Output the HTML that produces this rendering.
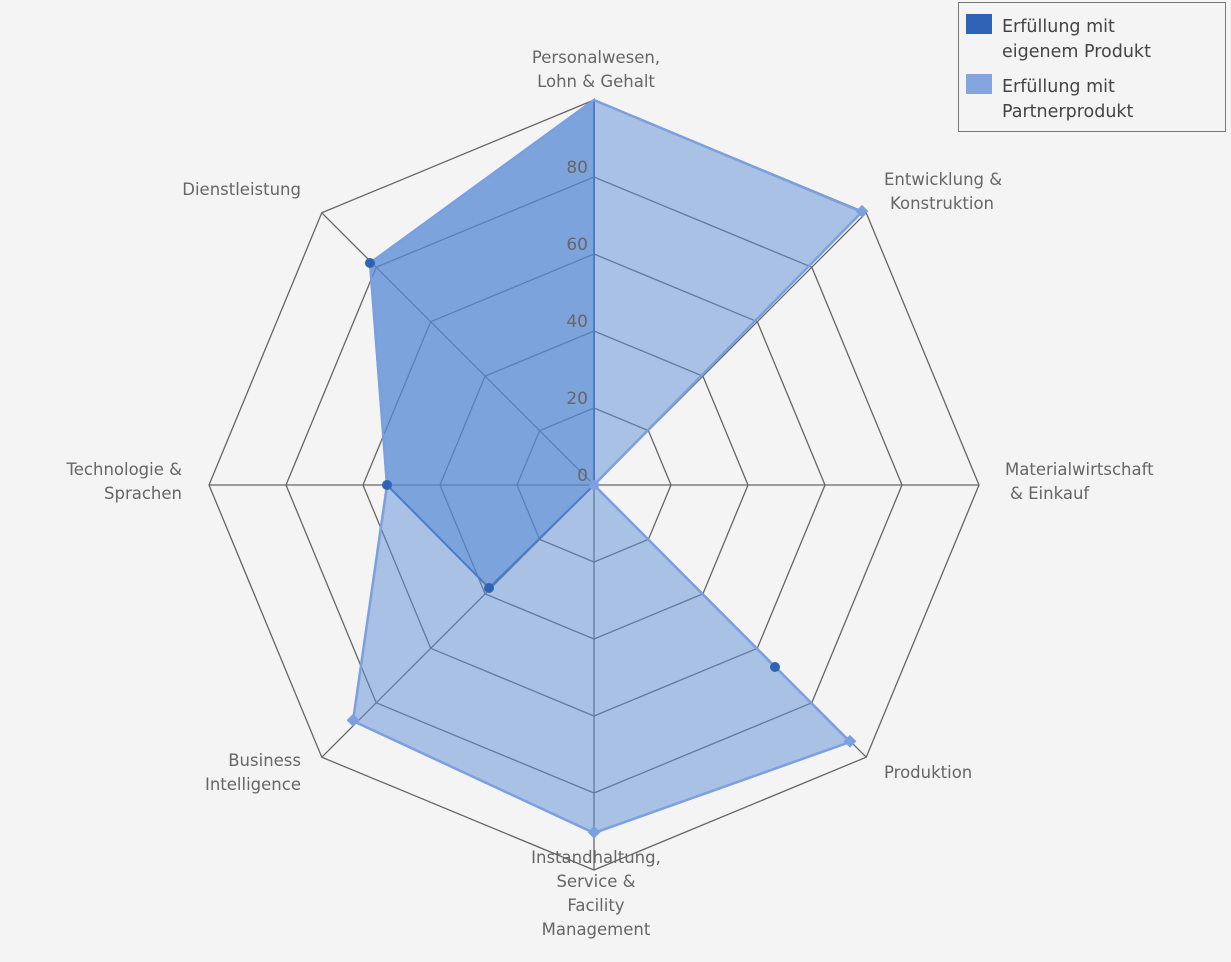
<!DOCTYPE html>
<html><head><meta charset="utf-8"><style>
html,body{margin:0;padding:0;background:#f4f4f4;}
svg{display:block;font-family:"DejaVu Sans","Liberation Sans",sans-serif;}
</style></head><body>
<svg width="1231" height="962" viewBox="0 0 1231 962">
<rect width="1231" height="962" fill="#f4f4f4"/>
<g fill="none" stroke="#666" stroke-width="1.3">
<polygon points="594,408 648.4,430.6 671,485 648.4,539.4 594,562 539.6,539.4 517,485 539.6,430.6"/>
<polygon points="594,331 702.9,376.1 748,485 702.9,593.9 594,639 485.1,593.9 440,485 485.1,376.1"/>
<polygon points="594,254 757.3,321.7 825,485 757.3,648.3 594,716 430.7,648.3 363,485 430.7,321.7"/>
<polygon points="594,177 811.8,267.2 902,485 811.8,702.8 594,793 376.2,702.8 286,485 376.2,267.2"/>
<polygon points="594,100 866.2,212.8 979,485 866.2,757.2 594,870 321.8,757.2 209,485 321.8,212.8"/>
<line x1="594" y1="485" x2="594" y2="100"/><line x1="594" y1="485" x2="866.2" y2="212.8"/>
<line x1="594" y1="485" x2="979" y2="485"/><line x1="594" y1="485" x2="866.2" y2="757.2"/>
<line x1="594" y1="485" x2="594" y2="870"/><line x1="594" y1="485" x2="321.8" y2="757.2"/>
<line x1="594" y1="485" x2="209" y2="485"/><line x1="594" y1="485" x2="321.8" y2="212.8"/>
</g>
<polygon points="594,100 594,485 594,485 775,667 594,485 489,588 387,485 370,263" fill="rgba(80,128,210,0.52)" stroke="#3a6cc0" stroke-width="2"/>
<polygon points="594,100 862,212 594,485 850,742 594,833 353,721 387,485 370,263" fill="rgba(90,140,215,0.49)" stroke="#7b9fdf" stroke-width="2.5"/>
<g fill="#2f63b5"><circle cx="775" cy="667" r="5"/><circle cx="489" cy="588" r="5"/><circle cx="387" cy="485" r="5"/><circle cx="370" cy="263" r="5"/></g>
<g fill="#7b9fdf"><rect x="857" y="207" width="9" height="9" transform="rotate(45 862 212)" /><rect x="845" y="737" width="9" height="9" transform="rotate(45 850 742)"/><rect x="589" y="828" width="9" height="9" transform="rotate(45 594 833)"/><rect x="348" y="716" width="9" height="9" transform="rotate(45 353 721)"/><circle cx="594" cy="485" r="5"/></g>
<g fill="#666" font-size="17" text-anchor="end">
<text x="588" y="173">80</text><text x="588" y="250">60</text><text x="588" y="327">40</text><text x="588" y="404">20</text><text x="588" y="481">0</text>
</g>
<g fill="#666" font-size="16.5">
<text x="596" y="63" text-anchor="middle">Personalwesen,</text><text x="596" y="87" text-anchor="middle">Lohn &amp; Gehalt</text>
<text x="884" y="185">Entwicklung &amp;</text><text x="890" y="209">Konstruktion</text>
<text x="1005" y="475">Materialwirtschaft</text><text x="1010" y="499">&amp; Einkauf</text>
<text x="884" y="778">Produktion</text>
<text x="596" y="863" text-anchor="middle">Instandhaltung,</text><text x="596" y="887" text-anchor="middle">Service &amp;</text><text x="596" y="911" text-anchor="middle">Facility</text><text x="596" y="935" text-anchor="middle">Management</text>
<text x="301" y="766" text-anchor="end">Business</text><text x="301" y="790" text-anchor="end">Intelligence</text>
<text x="182" y="475" text-anchor="end">Technologie &amp;</text><text x="182" y="499" text-anchor="end">Sprachen</text>
<text x="301" y="195" text-anchor="end">Dienstleistung</text>
</g>
<rect x="958.5" y="2.5" width="267" height="129" fill="#f4f4f4" stroke="#777" stroke-width="1"/>
<rect x="966" y="14" width="26" height="20" fill="#2f63b5"/>
<rect x="966" y="74" width="26" height="20" fill="#84a5de"/>
<g fill="#444" font-size="17.5">
<text x="1002" y="32">Erfüllung mit</text><text x="1002" y="57">eigenem Produkt</text>
<text x="1002" y="92">Erfüllung mit</text><text x="1002" y="117">Partnerprodukt</text>
</g>
</svg>
</body></html>
